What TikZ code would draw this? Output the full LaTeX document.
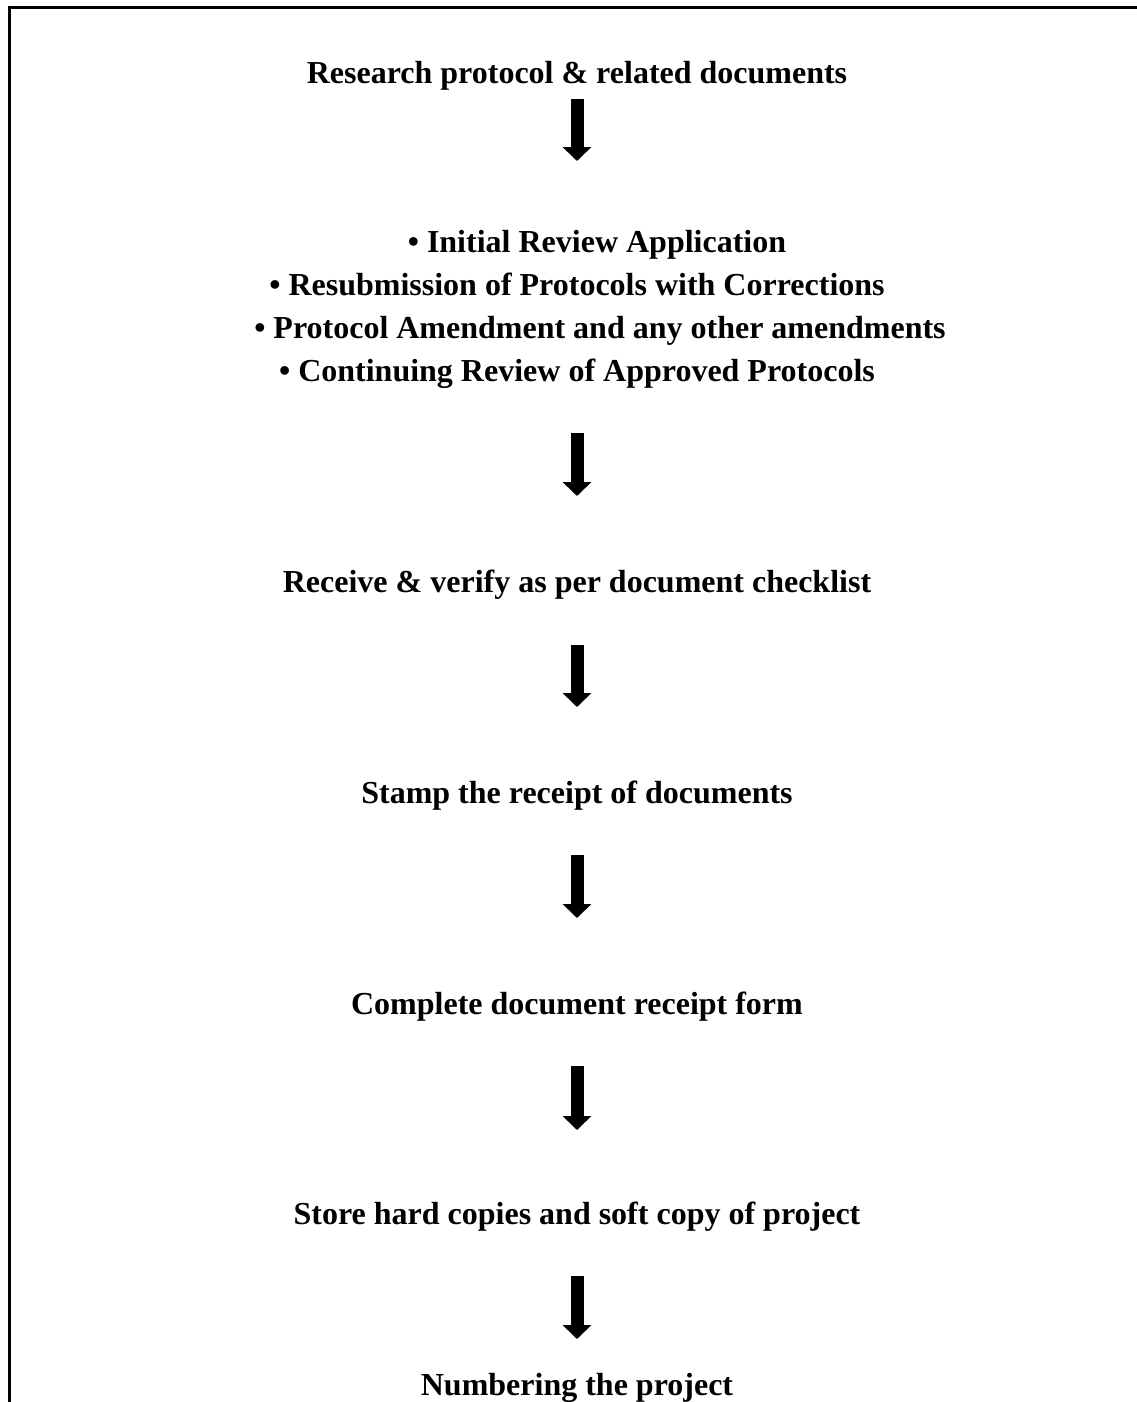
\documentclass[tikz,border=0pt]{standalone}
\usepackage{fontspec}
\setmainfont{Liberation Serif}
\usetikzlibrary{arrows.meta}
\begin{document}
\begin{tikzpicture}[x=1pt,y=-1pt,
  steptext/.style={anchor=base, inner sep=0pt, align=center,
    font=\fontsize{32}{43}\selectfont\bfseries},
  bigarrow/.style={line width=13pt, line cap=butt,
    -{Triangle[length=14pt,width=28pt]}}]
\useasboundingbox (0,0) rectangle (1137,1402);
% page frame (open on the right and at the bottom)
\draw[line width=3pt] (9,1410) -- (9,8) -- (1145,8);

% steps
\node[steptext] (s0) at (577,84) {Research protocol \& related documents};
\node[steptext, anchor=north] (s1) at (577,230) {%
  \hspace*{40pt}\textbullet\ Initial Review Application\\
  \textbullet\ Resubmission of Protocols with Corrections\\
  \hspace*{46pt}\textbullet\ Protocol Amendment and any other amendments\\
  \textbullet\ Continuing Review of Approved Protocols};
\node[steptext] (s2) at (577,592) {Receive \& verify as per document checklist};
\node[steptext] (s3) at (577,803) {Stamp the receipt of documents};
\node[steptext] (s4) at (577,1014) {Complete document receipt form};
\node[steptext] (s5) at (577,1224) {Store hard copies and soft copy of project};
\node[steptext] (s6) at (577,1395) {Numbering the project};

% arrow ends
\coordinate (a1t) at (577,99);   \coordinate (a1b) at (577,161);
\coordinate (a2t) at (577,433);  \coordinate (a2b) at (577,496);
\coordinate (a3t) at (577,645);  \coordinate (a3b) at (577,707);
\coordinate (a4t) at (577,855);  \coordinate (a4b) at (577,918);
\coordinate (a5t) at (577,1066); \coordinate (a5b) at (577,1130);
\coordinate (a6t) at (577,1276); \coordinate (a6b) at (577,1339);

\draw[bigarrow] (a1t) -- (a1b);
\draw[bigarrow] (a2t) -- (a2b);
\draw[bigarrow] (a3t) -- (a3b);
\draw[bigarrow] (a4t) -- (a4b);
\draw[bigarrow] (a5t) -- (a5b);
\draw[bigarrow] (a6t) -- (a6b);
\end{tikzpicture}
\end{document}
